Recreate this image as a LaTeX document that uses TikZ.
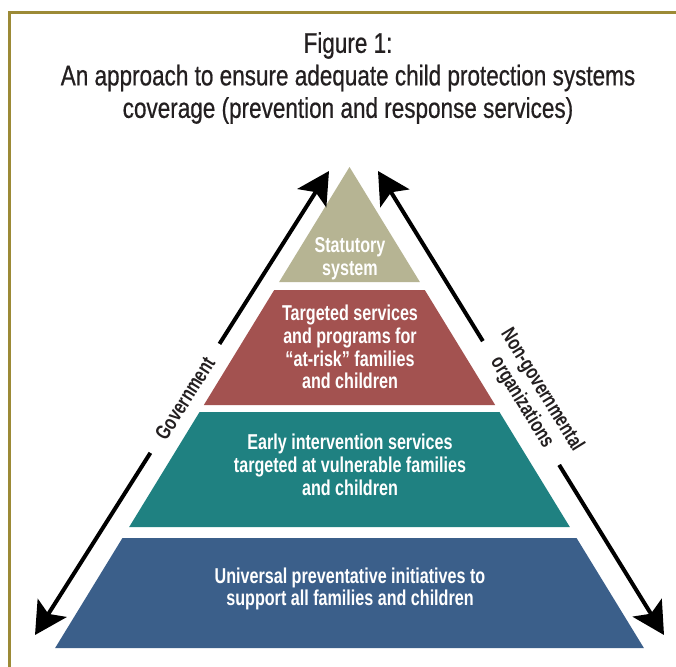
\documentclass[tikz,border=0pt]{standalone}
\usepackage{fontspec}
\usetikzlibrary{arrows.meta,calc}
\newfontfamily\titlefont{Liberation Sans}[FakeStretch=0.79,FakeBold=0.6]
\newfontfamily\tierfont{Liberation Sans}[FakeStretch=0.75]

\definecolor{frameolive}{HTML}{9C8A36}
\definecolor{tierkhaki}{HTML}{B6B493}
\definecolor{tierred}{HTML}{A35250}
\definecolor{tierteal}{HTML}{1F8181}
\definecolor{tierblue}{HTML}{3B5F8A}
\definecolor{inkgrey}{HTML}{231F20}

\tikzset{
  tiertext/.style={text=white, align=center, inner sep=0pt,
    font=\tierfont\bfseries\fontsize{21.5}{22.7}\selectfont},
  sidearrow/.style={line width=4pt, {Stealth[length=32pt,width=34pt,inset=7pt]}-{Stealth[length=32pt,width=34pt,inset=7pt]}},
  sidelabel/.style={fill=white, text=inkgrey, align=center, sloped,
    font=\tierfont\bfseries\fontsize{21}{23.5}\selectfont},
}

% pyramid edges at height y (apex at y=167, centre x=349.5)
\newcommand{\pyrL}[1]{({349.5-0.612*(#1-167)},#1)}
\newcommand{\pyrR}[1]{({349.5+0.612*(#1-167)},#1)}

\begin{document}
\begin{tikzpicture}[x=1pt,y=-1pt]
  \useasboundingbox (0,0) rectangle (676,666);
  \fill[white] (0,0) rectangle (676,666);

  % frame
  \draw[frameolive, line width=3pt] (9,670) -- (9,13) -- (680,13);

  % title
  \node[font=\titlefont\fontsize{28.5}{32.5}\selectfont, text=inkgrey, align=center, inner sep=0pt] (title) at (348,78)
    {Figure 1:\\An approach to ensure adequate child protection systems\\coverage (prevention and response services)};

  % pyramid tiers
  \fill[tierkhaki] (349.5,167) -- \pyrR{282} -- \pyrL{282} -- cycle;
  \fill[tierred]   \pyrL{290} -- \pyrR{290} -- \pyrR{405} -- \pyrL{405} -- cycle;
  \fill[tierteal]  \pyrL{412} -- \pyrR{412} -- \pyrR{527} -- \pyrL{527} -- cycle;
  \fill[tierblue]  \pyrL{538} -- \pyrR{538} -- \pyrR{648} -- \pyrL{648} -- cycle;

  \node[tiertext] (statutory) at (350,258.5) {Statutory\\system};
  \node[tiertext] (targeted) at (350,347) {Targeted services\\and programs for\\“at-risk” families\\and children};
  \node[tiertext] (early) at (350,465) {Early intervention services\\targeted at vulnerable families\\and children};
  \node[tiertext] (universal) at (350,589) {Universal preventative initiatives to\\support all families and children};

  % side arrows
  \coordinate (govTop) at (329,171);
  \coordinate (govBot) at (35,635);
  \coordinate (ngoTop) at (378,171);
  \coordinate (ngoBot) at (664,635);

  \draw[sidearrow] (govTop) -- node[sidelabel, pos=0.49, inner xsep=18pt, inner ysep=3pt] (gov) {Government} (govBot);
  \draw[sidearrow] (ngoTop) -- node[sidelabel, pos=0.5, above=-12pt, inner xsep=3pt, inner ysep=1pt] (ngo) {Non-governmental\\organizations} (ngoBot);
\end{tikzpicture}
\end{document}
